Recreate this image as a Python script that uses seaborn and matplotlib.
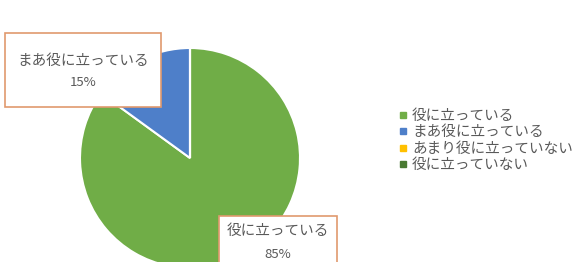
import matplotlib
matplotlib.use("Agg")
import matplotlib.pyplot as plt
from matplotlib.lines import Line2D
from matplotlib.patches import Rectangle
import seaborn as sns

categories = ["役に立っている", "まあ役に立っている", "あまり役に立っていない", "役に立っていない"]
shares = [85, 15, 0, 0]
colors = ["#70AD47", "#4E7FC9", "#FFC000", "#4A7A33"]

sns.set_theme(style="white")
plt.rcParams["font.family"] = ["Noto Sans CJK JP", "DejaVu Sans"]

TEXT = "#595959"
BOX_EDGE = "#E0996E"

fig = plt.figure(figsize=(5.78, 2.62), dpi=100)
W, H = 578, 262

# pie centred at (190, 158) px from top, radius ~110 px
cx, cy, r = 190, 158, 110
ax = fig.add_axes([(cx - r) / W, (H - cy - r) / H, 2 * r / W, 2 * r / H])
wedges, _ = ax.pie(shares, colors=colors, startangle=90, counterclock=False,
                   wedgeprops=dict(edgecolor="white", linewidth=1.5))
ax.set_xlim(-1, 1)
ax.set_ylim(-1, 1)
ax.set_aspect("equal")
ax.axis("off")

# data labels in boxes: (slice index, box x, y, w, h, name line y, pct line y) in px
label_boxes = [
    (1, 5, 33, 156, 74, 28, 49),
    (0, 219, 216, 118, 60, 15, 38),
]
for idx, x, y, w, h, ly1, ly2 in label_boxes:
    fig.patches.append(Rectangle((x / W, 1 - (y + h) / H), w / W, h / H,
                                 transform=fig.transFigure, facecolor="white",
                                 edgecolor=BOX_EDGE, linewidth=1.2, zorder=5))
    xc = (x + w / 2) / W
    fig.text(xc, 1 - (y + ly1) / H, categories[idx], ha="center", va="center",
             fontsize=10.5, color=TEXT, zorder=6)
    fig.text(xc, 1 - (y + ly2) / H, f"{shares[idx]}%", ha="center", va="center",
             fontsize=9.5, color=TEXT, zorder=6)

handles = [Line2D([], [], marker="s", linestyle="", markersize=4.5,
                  markerfacecolor=c, markeredgecolor=c) for c in colors]
fig.legend(handles, categories, loc="upper left", bbox_to_anchor=(399 / W, 1 - 109 / H),
           frameon=False, fontsize=10.5, labelcolor=TEXT, handlelength=0.6,
           handletextpad=0.3, labelspacing=0.16, borderpad=0, borderaxespad=0)

fig.savefig("out.png", dpi=100)
